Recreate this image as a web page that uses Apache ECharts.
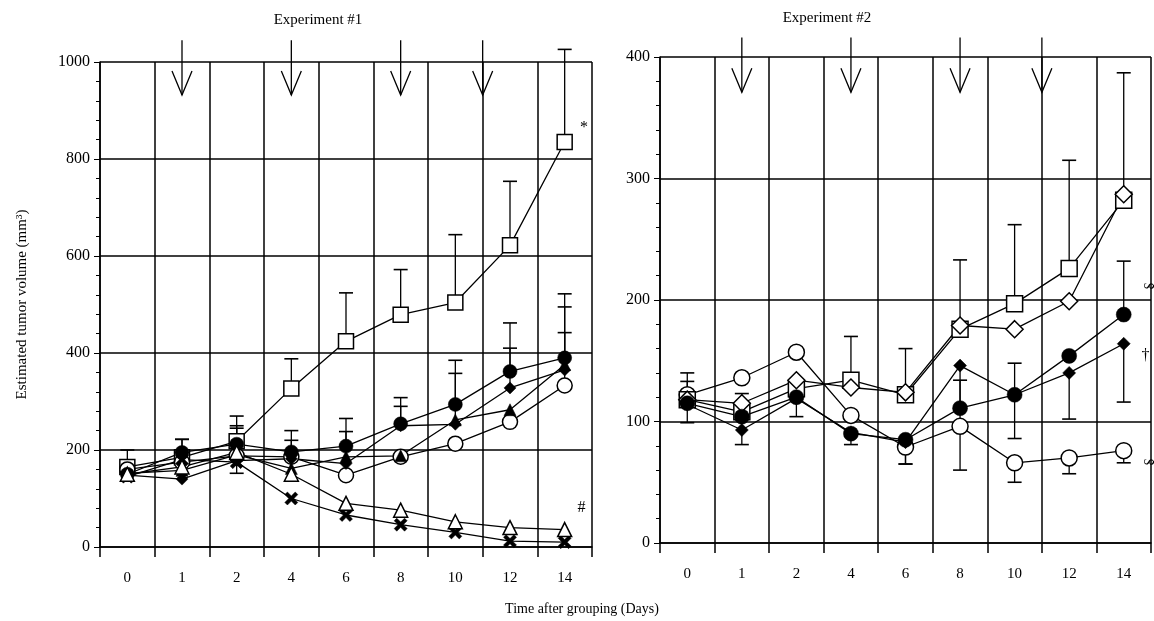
<!DOCTYPE html>
<html>
<head>
<meta charset="utf-8">
<script src="https://cdn.jsdelivr.net/npm/echarts@6/dist/echarts.min.js"></script>
<style>html,body{margin:0;padding:0;background:#fff}#c{width:1154px;height:621px}</style>
</head>
<body>
<div id="c"></div>
<script>
// ---------- data ----------
const days = ['0', '1', '2', '4', '6', '8', '10', '12', '14'];

// Experiment #1
const e1OpenSquare     = [165, 185, 218, 327, 424, 479, 504, 622, 835];
const e1OpenSquareErr  = [200, 222, 270, 388, 524, 572, 644, 754, 1026];
const e1FilledCircle   = [150, 195, 212, 196, 208, 254, 294, 362, 390];
const e1FilledCircleErr= [null, 222, 250, 240, 265, 308, 385, 462, 522];
const e1FilledDiamond  = [148, 140, 178, 182, 172, 250, 253, 328, 365];
const e1FilledDiamondErr=[null, null, 245, 220, 238, 290, 358, 410, 495];
const e1FilledTriangle = [152, 158, 190, 162, 186, 188, 262, 283, 376];
const e1OpenCircle     = [160, 175, 188, 186, 148, 186, 213, 258, 333];
const e1OpenCircleErr  = [null, null, null, null, null, null, null, null, 442];
const e1OpenTriangle   = [150, 165, 195, 150, 90, 76, 52, 40, 36];
const e1Cross          = [145, 180, 175, 100, 66, 46, 30, 12, 10];
const e1CrossLow       = [null, null, 152, null, null, null, null, null, null];

// Experiment #2
const e2OpenCircle     = [122, 136, 157, 105, 79, 96, 66, 70, 76];
const e2OpenCircleLow  = [null, null, null, null, 65, null, 50, 57, 66];
const e2OpenSquare     = [118, 108, 127, 134, 122, 176, 197, 226, 282];
const e2OpenSquareErr  = [140, 123, null, 170, 160, 233, 262, 315, 387];
const e2OpenDiamond    = [118, 115, 134, 128, 124, 179, 176, 199, 287];
const e2FilledCircle   = [115, 104, 120, 90, 85, 111, 122, 154, 188];
const e2FilledCircleErr= [133, null, null, null, null, 134, 148, null, 232];
const e2FilledDiamond  = [114, 93, 119, 91, 83, 146, 122, 140, 164];
const e2FilledDiamondLow=[99, 81, 104, 81, 65, 60, 86, 102, 116];

// treatment arrows (position on band scale: index of day, 6.5 = day 11) and y-range
const arrowPos = [1, 3, 5, 6.5];
const e1ArrowRange = [1045, 932];
const e2ArrowRange = [416, 371];

// ---------- helpers ----------
const FONT = 'Liberation Serif, Times New Roman, serif';
const crossPath = 'path://M0,2 L2,0 L5,3 L8,0 L10,2 L7,5 L10,8 L8,10 L5,7 L2,10 L0,8 L3,5 Z';

function lineSeries(gi, values, symbol, filled, size, extra) {
  return Object.assign({
    type: 'line', xAxisIndex: gi, yAxisIndex: gi,
    data: values, symbol: symbol, symbolSize: size, showSymbol: true,
    lineStyle: { color: '#000', width: 1.3 },
    itemStyle: { color: filled ? '#000' : '#fff', borderColor: '#000', borderWidth: filled ? 0.5 : 1.5 },
    z: 5, animation: false, silent: true
  }, extra || {});
}

function errSeries(gi, base, ends) {
  const data = [];
  base.forEach((v, i) => { if (ends[i] != null) data.push([i, v, ends[i]]); });
  return {
    type: 'custom', xAxisIndex: gi, yAxisIndex: gi, data: data, z: 3, animation: false, silent: true,
    encode: { x: 0, y: [1, 2] },
    renderItem: function (params, api) {
      const p1 = api.coord([api.value(0), api.value(1)]);
      const p2 = api.coord([api.value(0), api.value(2)]);
      const w = 14;
      return { type: 'group', children: [
        { type: 'line', shape: { x1: p1[0], y1: p1[1], x2: p2[0], y2: p2[1] }, style: { stroke: '#000', lineWidth: 1.3 } },
        { type: 'line', shape: { x1: p2[0] - w / 2, y1: p2[1], x2: p2[0] + w / 2, y2: p2[1] }, style: { stroke: '#000', lineWidth: 1.6 } }
      ]};
    }
  };
}

function arrowSeries(axisIdx, yIdx, range) {
  return {
    type: 'custom', xAxisIndex: axisIdx, yAxisIndex: yIdx, clip: false, z: 6, animation: false, silent: true,
    data: arrowPos.map(p => [p, range[0], range[1]]),
    encode: { x: 0, y: [1, 2] },
    renderItem: function (params, api) {
      const a = api.coord([api.value(0), api.value(1)]);
      const b = api.coord([api.value(0), api.value(2)]);
      return { type: 'group', children: [
        { type: 'line', shape: { x1: a[0], y1: a[1], x2: b[0], y2: b[1] }, style: { stroke: '#000', lineWidth: 1.3 } },
        { type: 'polyline', shape: { points: [[b[0] - 10, b[1] - 24], [b[0], b[1]], [b[0] + 10, b[1] - 24]] }, style: { stroke: '#000', fill: 'none', lineWidth: 1.3 } }
      ]};
    }
  };
}

function catAxis(gi) {
  return {
    type: 'category', gridIndex: gi, data: days, boundaryGap: true,
    axisLine: { show: true, onZero: false, lineStyle: { color: '#000', width: 1.5 } },
    axisTick: { show: true, length: 10, lineStyle: { color: '#000', width: 1.5 } },
    axisLabel: { color: '#000', fontFamily: FONT, fontSize: 15, margin: 24 },
    splitLine: { show: true, lineStyle: { color: '#000', width: 1.5 } }
  };
}
function hiddenAxis(gi) {
  return { type: 'value', gridIndex: gi, min: -0.5, max: 8.5, show: false, splitLine: { show: false } };
}
function valAxis(gi, max, interval) {
  return {
    type: 'value', gridIndex: gi, min: 0, max: max, interval: interval,
    axisLine: { show: true, onZero: false, lineStyle: { color: '#000', width: 1.5 } },
    axisTick: { show: true, length: 6, inside: false, lineStyle: { color: '#000' } },
    minorTick: { show: true, splitNumber: 5, length: 4, lineStyle: { color: '#000' } },
    axisLabel: { color: '#000', fontFamily: FONT, fontSize: 16, margin: 10, formatter: v => String(v) },
    splitLine: { show: true, lineStyle: { color: '#000', width: 1.5 } }
  };
}

function withLastLabel(values, text, offset) {
  return values.map((v, i) => i === values.length - 1
    ? { value: v, label: { show: true, formatter: text, position: 'right', offset: offset, color: '#000', fontFamily: FONT, fontSize: 16 } }
    : v);
}

const chart = echarts.init(document.getElementById('c'), null, { renderer: 'canvas' });
chart.setOption({
  backgroundColor: '#fff',
  animation: false,
  title: [
    { text: 'Experiment #1', left: 313, top: 8, textAlign: 'center', textStyle: { fontFamily: FONT, fontSize: 15, fontWeight: 'normal', color: '#000' } },
    { text: 'Experiment #2', left: 822, top: 6, textAlign: 'center', textStyle: { fontFamily: FONT, fontSize: 15, fontWeight: 'normal', color: '#000' } },
    { text: 'Time after grouping (Days)', left: 577, top: 597, textAlign: 'center', textStyle: { fontFamily: FONT, fontSize: 14, fontWeight: 'normal', color: '#000' } }
  ],
  grid: [
    { left: 100, top: 62, width: 492, height: 485 },
    { left: 660, top: 57, width: 491, height: 486 }
  ],
  xAxis: [catAxis(0), catAxis(1), hiddenAxis(0), hiddenAxis(1)],
  yAxis: [
    Object.assign(valAxis(0, 1000, 200), { name: 'Estimated tumor volume (mm³)', nameLocation: 'middle', nameGap: 70, nameRotate: 90,
      nameTextStyle: { color: '#000', fontFamily: FONT, fontSize: 15 } }),
    valAxis(1, 400, 100)
  ],
  series: [
    // Experiment 1 error bars
    errSeries(0, e1OpenSquare, e1OpenSquareErr),
    errSeries(0, e1FilledCircle, e1FilledCircleErr),
    errSeries(0, e1FilledDiamond, e1FilledDiamondErr),
    errSeries(0, e1OpenCircle, e1OpenCircleErr),
    errSeries(0, e1Cross, e1CrossLow),
    // Experiment 1 lines
    lineSeries(0, withLastLabel(e1OpenSquare, '*', [2, -14]), 'rect', false, 15),
    lineSeries(0, e1OpenCircle, 'circle', false, 15),
    lineSeries(0, e1FilledTriangle, 'triangle', true, 12),
    lineSeries(0, e1FilledDiamond, 'diamond', true, 12),
    lineSeries(0, e1FilledCircle, 'circle', true, 14),
    lineSeries(0, e1Cross, crossPath, true, 13),
    lineSeries(0, withLastLabel(e1OpenTriangle, '#', [0, -22]), 'triangle', false, 14),
    // Experiment 2 error bars
    errSeries(1, e2OpenSquare, e2OpenSquareErr),
    errSeries(1, e2OpenCircle, e2OpenCircleLow),
    errSeries(1, e2FilledCircle, e2FilledCircleErr),
    errSeries(1, e2FilledDiamond, e2FilledDiamondLow),
    // Experiment 2 lines
    lineSeries(1, e2OpenCircle, 'circle', false, 16),
    lineSeries(1, e2OpenSquare, 'rect', false, 16),
    lineSeries(1, e2OpenDiamond, 'diamond', false, 17),
    lineSeries(1, e2FilledCircle, 'circle', true, 15),
    lineSeries(1, withLastLabel(e2FilledDiamond, '†', [6, 12]), 'diamond', true, 13),
    // arrows
    arrowSeries(2, 0, e1ArrowRange),
    arrowSeries(3, 1, e2ArrowRange)
  ],
  graphic: [
    { type: 'text', left: 1142, top: 282, rotation: -Math.PI / 2, style: { text: '§', fontFamily: FONT, fontSize: 16, fill: '#000' } },
    { type: 'text', left: 1142, top: 458, rotation: -Math.PI / 2, style: { text: '§', fontFamily: FONT, fontSize: 16, fill: '#000' } }
  ]
});
</script>
</body>
</html>
